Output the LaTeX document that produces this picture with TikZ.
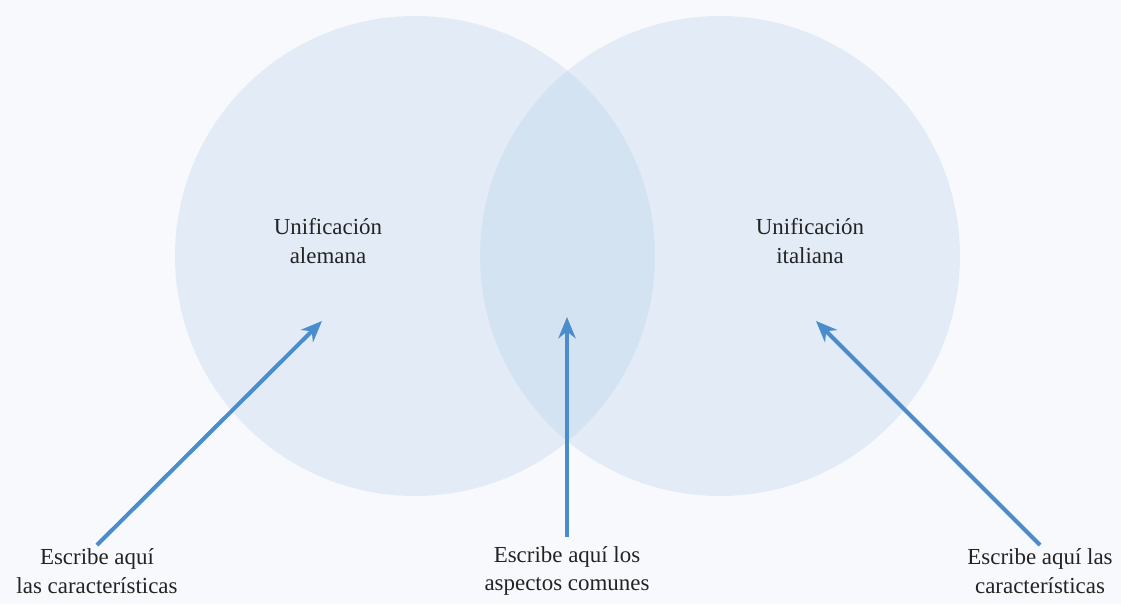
\documentclass[tikz,border=0pt]{standalone}
\usepackage{fontspec}
\setmainfont{Liberation Serif}
\usetikzlibrary{positioning, arrows.meta}
\definecolor{bgcol}{RGB}{248,249,252}
\definecolor{setcol}{RGB}{168,201,232}
\definecolor{arrowcol}{RGB}{74,140,204}
\definecolor{textcol}{RGB}{35,35,35}

\begin{document}
\begin{tikzpicture}[x=0.75pt, y=-0.75pt, >={Stealth[length=16pt, width=13pt]},
  setcircle/.style={circle, fill=setcol, fill opacity=0.25, minimum size=360pt, inner sep=0pt},
  label/.style={align=center, text=textcol, font=\fontsize{17.2}{21.3}\selectfont, inner sep=0pt},
  pointer/.style={->, draw=arrowcol, line width=3pt}]
  \fill[bgcol] (0,0) rectangle (1121,604);
  \useasboundingbox (0,0) rectangle (1121,604);
  % the two sets
  \node[setcircle] (alemana) at (415,256) {};
  \node[setcircle] (italiana) at (720,256) {};
  \node[label] (tAlemana) at (328,241) {Unificación\\alemana};
  \node[label] (tItaliana) at (810,241) {Unificación\\italiana};
  % the hints
  \node[label] (hintL) at (97,571) {Escribe aquí\\las características};
  \node[label] (hintM) at (567,571) {Escribe aquí los\\aspectos comunes};
  \node[label] (hintR) at (1040,571) {Escribe aquí las\\características};
  \coordinate (tailL) at (97,545);
  \coordinate (tipL) at (322,321);
  \coordinate (tailM) at (567,537);
  \coordinate (tipM) at (567,317);
  \coordinate (tailR) at (1040,545);
  \coordinate (tipR) at (816,321);
  \draw[pointer] (tailL) -- (tipL);
  \draw[pointer] (tailM) -- (tipM);
  \draw[pointer] (tailR) -- (tipR);
\end{tikzpicture}
\end{document}
